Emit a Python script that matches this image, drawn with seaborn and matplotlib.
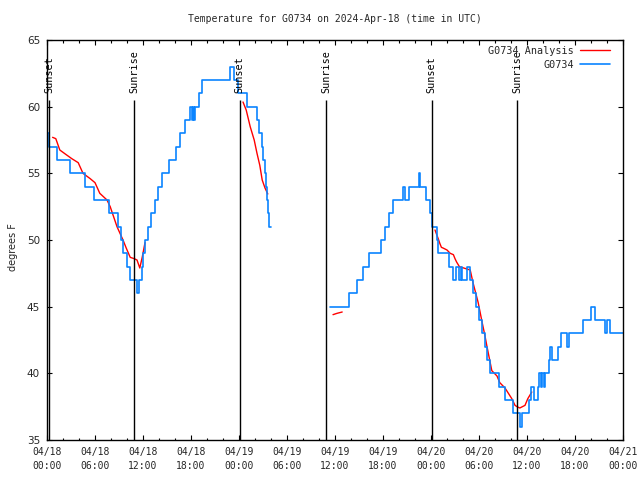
import matplotlib
matplotlib.use('Agg')
import matplotlib.pyplot as plt
import matplotlib.dates as mdates
from matplotlib.lines import Line2D
import seaborn as sns
import pandas as pd

START = pd.Timestamp('2024-04-18 00:00')
TITLE = 'Temperature for G0734 on 2024-Apr-18 (time in UTC)'

# G0734 observations (hours after 04/18 00:00 UTC, degrees F), drawn as steps
obs_hours_1 = [0.0, 0.25, 1.25, 2.9, 4.75, 5.9, 7.75, 8.9, 9.25, 9.55, 9.95, 10.4,
               11.25, 11.5, 11.85, 12.05, 12.3, 12.6, 13.0, 13.5, 13.85, 14.4, 15.3,
               16.1, 16.6, 17.25, 17.9, 18.1, 18.25, 18.4, 18.55, 19.0, 19.35, 22.9,
               23.4, 23.9, 24.95, 26.3, 26.5, 26.9, 27.05, 27.25, 27.4, 27.55, 27.65,
               27.8, 28.0]
obs_temps_1 = [58, 57, 56, 55, 54, 53, 52, 51, 50, 49, 48, 47,
               46, 47, 48, 49, 50, 51, 52, 53, 54, 55, 56,
               57, 58, 59, 60, 59, 60, 59, 60, 61, 62, 63,
               62, 61, 60, 59, 58, 57, 56, 55, 54, 53, 52,
               51, 51]
obs_hours_2 = [35.4, 37.8, 38.8, 39.5, 40.3, 41.8, 42.2, 42.7, 43.3, 44.5, 44.75,
               45.3, 46.5, 46.65, 47.4, 47.9, 48.1, 48.7, 48.9, 50.3, 50.7, 51.1,
               51.55, 51.7, 51.85, 52.45, 52.9, 53.3, 53.6, 54.0, 54.35, 54.75,
               54.95, 55.4, 56.5, 57.25, 58.3, 59.1, 59.4, 60.2, 60.55, 60.9, 61.4,
               61.55, 61.7, 61.9, 62.1, 62.3, 62.7, 62.9, 63.15, 63.9, 64.2, 65.0,
               65.2, 67.05, 68.05, 68.45, 69.75, 69.95, 70.35, 72.0]
obs_temps_2 = [45, 46, 47, 48, 49, 50, 51, 52, 53, 54, 53,
               54, 55, 54, 53, 52, 51, 50, 49, 48, 47, 48,
               47, 48, 47, 48, 47, 46, 45, 44, 43, 42,
               41, 40, 39, 38, 37, 36, 37, 38, 39, 38, 39,
               40, 39, 40, 39, 40, 41, 42, 41, 42, 43, 42,
               43, 44, 45, 44, 43, 44, 43, 43]

# G0734 analysis
ana_hours_1 = [0.7, 1.1, 1.6, 2.4, 3.1, 3.9, 4.5, 5.4, 6.0, 6.6, 7.5, 7.9, 8.75,
               9.5, 9.9, 10.4, 10.9, 11.25, 11.6, 11.9, 12.25]
ana_temps_1 = [57.7, 57.6, 56.75, 56.4, 56.1, 55.8, 55.0, 54.6, 54.3, 53.5, 53.0,
               52.5, 51.0, 50.0, 49.4, 48.7, 48.6, 48.5, 47.9, 48.7, 49.8]
ana_hours_2 = [24.5, 24.9, 25.4, 25.9, 26.25, 26.6, 26.9, 27.25, 27.6]
ana_temps_2 = [60.35, 59.75, 58.5, 57.5, 56.5, 55.6, 54.5, 53.9, 53.45]
ana_hours_3 = [35.75, 36.25, 36.9]
ana_temps_3 = [44.4, 44.5, 44.6]
ana_hours_4 = [48.5, 48.9, 49.1, 49.3, 49.5, 50.0, 50.4, 50.8, 51.0, 51.2, 51.55,
               52.9, 53.25, 53.9, 54.4, 54.75, 55.0, 55.6, 56.25, 56.6, 57.25,
               58.1, 58.5, 58.75, 59.1, 59.75, 60.1, 60.6]
ana_temps_4 = [50.75, 50.1, 49.75, 49.45, 49.4, 49.25, 49.0, 48.9, 48.6, 48.35,
               48.0, 47.75, 46.8, 45.3, 43.8, 42.8, 42.0, 40.2, 39.8, 39.3, 38.9,
               38.1, 37.6, 37.5, 37.4, 37.6, 38.1, 38.6]

event_hours = [0.3, 10.9, 24.1, 34.9, 48.1, 58.75]
event_names = ['Sunset', 'Sunrise', 'Sunset', 'Sunrise', 'Sunset', 'Sunrise']

RED = '#ff0000'
BLUE = '#0a84ff'
MONO = 'DejaVu Sans Mono'


def to_frame(parts):
    rows = []
    for seg, (hours, temps) in enumerate(parts):
        for h, t in zip(hours, temps):
            rows.append({'time': START + pd.Timedelta(hours=h), 'temp': t, 'seg': seg})
    return pd.DataFrame(rows)


obs = to_frame([(obs_hours_1, obs_temps_1), (obs_hours_2, obs_temps_2)])
ana = to_frame([(ana_hours_1, ana_temps_1), (ana_hours_2, ana_temps_2),
                (ana_hours_3, ana_temps_3), (ana_hours_4, ana_temps_4)])

sns.set_theme(style='ticks')
plt.rcParams['font.family'] = ['DejaVu Sans']

fig = plt.figure(figsize=(6.4, 4.8), dpi=100)
ax = fig.add_axes([47 / 640, 40 / 480, 576 / 640, 400 / 480])

sns.lineplot(data=ana, x='time', y='temp', units='seg', estimator=None,
             color=RED, lw=1.0, legend=False, ax=ax)
sns.lineplot(data=obs, x='time', y='temp', units='seg', estimator=None,
             color=BLUE, lw=1.2, drawstyle='steps-post', legend=False, ax=ax)

for h, name in zip(event_hours, event_names):
    t = START + pd.Timedelta(hours=h)
    ax.vlines(t, 35, 60.5, color='black', lw=1)
    ax.text(t, 61, name, rotation=90, ha='center', va='bottom',
            family=MONO, fontsize=7.3, color='black')

ax.set_xlim(START, START + pd.Timedelta(hours=72))
ax.set_ylim(35, 65)
ax.set_yticks([35, 40, 45, 50, 55, 60, 65])
ax.xaxis.set_major_locator(mdates.HourLocator(byhour=[0, 6, 12, 18]))
ax.xaxis.set_minor_locator(mdates.HourLocator(byhour=range(0, 24, 2)))
ax.xaxis.set_major_formatter(mdates.DateFormatter('%m/%d\n%H:%M'))

for s in ax.spines.values():
    s.set_color('black')
    s.set_linewidth(1)
ax.tick_params(axis='both', which='both', direction='in', top=True, right=True,
               color='black', width=0.8)
ax.tick_params(axis='x', which='major', length=3.5, pad=5, labelsize=7)
ax.tick_params(axis='x', which='minor', length=1.8)
ax.tick_params(axis='y', which='major', length=3.5, pad=5, labelsize=7.5)
for lbl in ax.get_xticklabels():
    lbl.set_family(MONO)

ax.set_xlabel('')
ax.set_ylabel('degrees F', fontsize=7)
ax.yaxis.set_label_coords((18 - 47) / 576, 0.4825)

fig.text(335 / 640, 1 - 19 / 480, TITLE, ha='center', va='center',
         family=MONO, fontsize=7)

handles = [Line2D([], [], color=RED, lw=1.0), Line2D([], [], color=BLUE, lw=1.2)]
ax.legend(handles, ['G0734 Analysis', 'G0734'], loc='upper right',
          bbox_to_anchor=(0.978, 0.985), frameon=False, markerfirst=False,
          handlelength=3.0, handletextpad=0.6, labelspacing=0.35,
          borderaxespad=0, borderpad=0, prop={'family': MONO, 'size': 7.3})

fig.canvas.draw()
for lbl in ax.get_xticklabels():
    lbl.set_linespacing(1.45)

fig.savefig('out.png', dpi=100, facecolor='white')
